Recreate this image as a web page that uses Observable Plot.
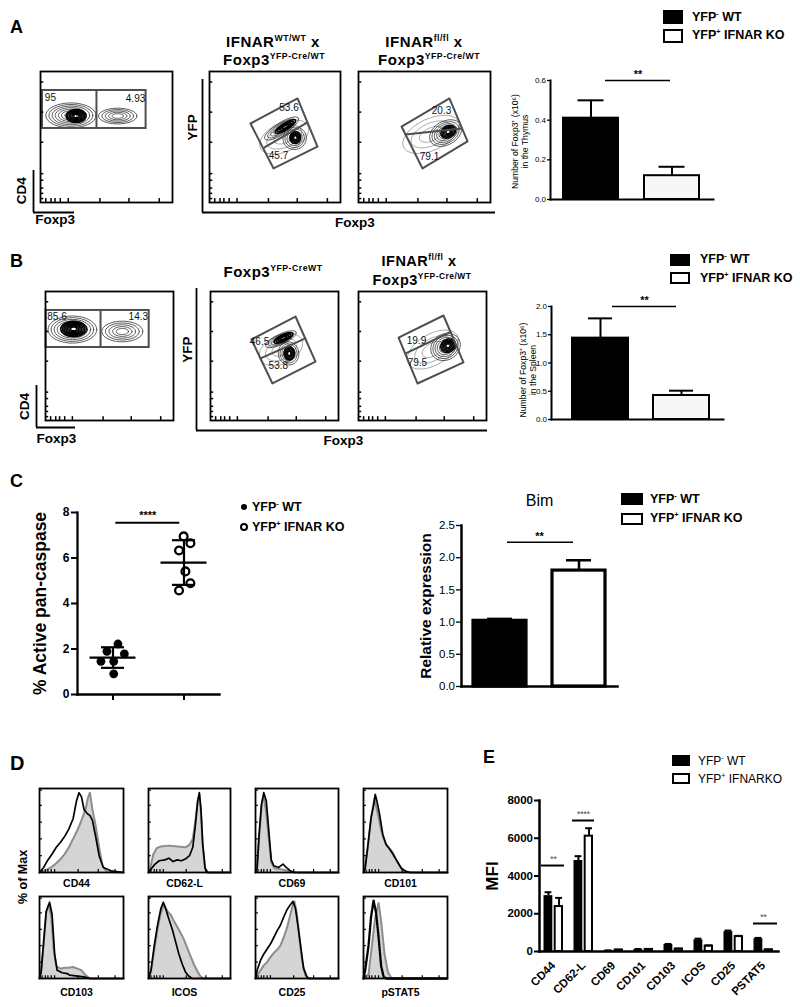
<!DOCTYPE html>
<html><head><meta charset="utf-8">
<script src="https://cdn.jsdelivr.net/npm/d3@7"></script>
<script src="https://cdn.jsdelivr.net/npm/@observablehq/plot@0.6"></script>
<style>
body{margin:0;background:#fff;}
#root{position:relative;width:800px;height:1007px;overflow:hidden;font-family:"Liberation Sans",Arial,Helvetica,sans-serif;color:#000;background:#fff;}
sup{font-size:0.58em;position:relative;top:-0.72em;vertical-align:baseline;line-height:0;}
</style></head>
<body><div id="root"></div>
<script>
// ---------------- DATA ----------------
const groups = ["YFP- WT", "YFP+ IFNAR KO"];
// A / B bar charts (x10^6 Foxp3+ cells)
const thymusMean = [0.41, 0.12];
const thymusTop  = [0.50, 0.165];
const spleenMean = [1.44, 0.425];
const spleenTop  = [1.79, 0.51];
// Bim relative expression
const bimMean = [1.02, 1.80];
const bimTop  = [1.05, 1.96];
// C % active pan-caspase (value, horizontal jitter in group units)
const caspWT = [2.22, 1.90, 1.79, 1.46, 1.46, 0.91];
const caspWTjit = [0.07, -0.085, 0.16, -0.17, 0.01, 0.01];
const caspKO = [6.95, 6.65, 6.33, 5.41, 4.89, 4.57];
const caspKOjit = [-0.005, 0.09, -0.07, 0.02, 0.09, -0.07];
// E MFI
const eMarkers = ["CD44", "CD62-L", "CD69", "CD101", "CD103", "ICOS", "CD25", "PSTAT5"];
const eWT    = [2960, 4820, 50, 110, 370, 620, 1050, 680];
const eWTtop = [3140, 5050, 60, 130, 400, 680, 1110, 720];
const eKO    = [2380, 6110, 80, 110, 130, 290, 790, 90];
const eKOtop = [2840, 6530, 90, 120, 150, 320, 830, 100];
// flow gate percentages
const gateA1 = ["95", "4.93"];
const gateA2 = ["53.6", "45.7"];
const gateA3 = ["20.3", "79.1"];
const gateB1 = ["85.6", "14.3"];
const gateB2 = ["46.5", "53.8"];
const gateB3 = ["19.9", "79.5"];
// D histograms [x, % of max / 100]
const cd44Gray  = [[0,0],[.05,.02],[.1,.04],[.15,.07],[.2,.11],[.25,.16],[.3,.22],[.35,.3],[.4,.4],[.45,.5],[.5,.62],[.55,.76],[.58,.9],[.6,.95],[.63,.75],[.67,.55],[.71,.3],[.75,.08],[.8,.01],[1,0]];
const cd44Black = [[0,0],[.05,.06],[.1,.15],[.15,.22],[.2,.3],[.25,.36],[.3,.43],[.35,.52],[.4,.64],[.44,.85],[.47,.95],[.5,.9],[.53,.75],[.57,.7],[.6,.68],[.63,.62],[.67,.42],[.71,.2],[.76,.06],[.85,.02],[1,0]];
const cd62Gray  = [[0,0],[.02,.05],[.06,.22],[.1,.29],[.15,.31],[.25,.32],[.35,.31],[.45,.3],[.5,.33],[.54,.4],[.57,.6],[.6,.85],[.62,.93],[.64,.72],[.66,.35],[.69,.05],[.72,0],[1,0]];
const cd62Black = [[0,0],[.03,.04],[.08,.1],[.13,.14],[.2,.15],[.25,.17],[.3,.13],[.35,.15],[.4,.14],[.45,.16],[.5,.2],[.54,.3],[.57,.55],[.6,.85],[.62,.95],[.64,.75],[.66,.35],[.69,.05],[.72,0],[1,0]];
const cd69Gray  = [[0,0],[.02,.1],[.05,.5],[.08,.85],[.1,.9],[.13,.7],[.16,.4],[.19,.12],[.23,.05],[.3,.04],[.35,.03],[.42,.01],[.5,0],[1,0]];
const cd69Black = [[0,0],[.02,.05],[.04,.4],[.07,.8],[.1,.95],[.13,.85],[.16,.5],[.19,.15],[.22,.08],[.28,.06],[.33,.1],[.37,.06],[.42,.02],[.46,0],[1,0]];
const cd101Gray  = [[0,0],[.02,.08],[.05,.3],[.09,.65],[.13,.88],[.17,.7],[.21,.5],[.26,.35],[.3,.3],[.34,.25],[.38,.17],[.43,.08],[.48,.02],[.55,0],[1,0]];
const cd101Black = [[0,0],[.02,.05],[.05,.3],[.09,.65],[.12,.8],[.14,.93],[.16,.85],[.19,.7],[.23,.45],[.27,.33],[.31,.28],[.35,.22],[.39,.15],[.45,.05],[.51,.01],[.56,0],[1,0]];
const cd103Gray  = [[0,0],[.02,.1],[.05,.45],[.08,.8],[.11,.9],[.14,.75],[.17,.35],[.2,.15],[.25,.12],[.3,.13],[.35,.13],[.4,.14],[.45,.12],[.5,.1],[.55,.04],[.6,0],[1,0]];
const cd103Black = [[0,0],[.02,.08],[.05,.45],[.08,.82],[.12,.93],[.15,.78],[.18,.3],[.21,.1],[.27,.07],[.33,.06],[.36,.04],[.45,.03],[.53,.02],[.6,0],[1,0]];
const icosGray  = [[0,0],[.03,.08],[.07,.35],[.11,.6],[.15,.8],[.19,.9],[.23,.82],[.27,.78],[.31,.7],[.35,.63],[.39,.56],[.43,.48],[.47,.38],[.51,.28],[.55,.18],[.59,.1],[.63,.03],[.67,0],[1,0]];
const icosBlack = [[0,0],[.03,.1],[.07,.4],[.11,.65],[.15,.85],[.18,.93],[.21,.85],[.25,.72],[.29,.6],[.33,.45],[.37,.3],[.41,.18],[.45,.08],[.49,.03],[.53,0],[1,0]];
const cd25Gray  = [[0,0],[.02,.04],[.06,.1],[.1,.16],[.14,.2],[.18,.26],[.22,.31],[.26,.35],[.3,.4],[.34,.5],[.38,.62],[.42,.78],[.45,.9],[.47,.94],[.5,.78],[.53,.5],[.56,.22],[.6,.04],[.63,0],[1,0]];
const cd25Black = [[0,0],[.02,.1],[.06,.22],[.1,.3],[.14,.36],[.18,.42],[.22,.5],[.26,.58],[.3,.65],[.34,.75],[.38,.84],[.42,.9],[.45,.94],[.48,.86],[.51,.65],[.55,.35],[.58,.12],[.62,.02],[.65,0],[1,0]];
const pstat5Gray  = [[0,0],[.06,.05],[.1,.4],[.14,.75],[.18,.92],[.21,.7],[.25,.3],[.29,.08],[.33,.01],[.36,0],[1,0]];
const pstat5Black = [[0,0],[.02,.1],[.06,.4],[.09,.75],[.12,.95],[.15,.8],[.18,.5],[.21,.15],[.24,.02],[.27,0],[1,0]];
const histLabels = ["CD44", "CD62-L", "CD69", "CD101", "CD103", "ICOS", "CD25", "pSTAT5"];
// tick positions on flow / histogram log axes (fraction of axis)
const flowTicksX = [.04, .08, .11, .15, .21, .45, .67, .90];
const flowTicksY = [.03, .07, .11, .17, .22, .46, .69, .92];
const histTicksX = [.03, .07, .1, .14, .18, .46, .7, .9];
const histTicksY = [.2, .4, .6, .8, .98];

// ---------------- HELPERS ----------------
const FONT = '"Liberation Sans", Arial, Helvetica, sans-serif';
const st = {fontFamily: FONT, background: "transparent", overflow: "visible"};
const root = document.getElementById("root");
const GATE = "#4f4f4f";

function put(node, left, top) {
  node.style.position = "absolute";
  node.style.left = left + "px";
  node.style.top = top + "px";
  root.appendChild(node);
  return node;
}
function txt(content, x, baseline, {size = 12, weight = "bold", anchor = "start", extra = ""} = {}) {
  const d = document.createElement("div");
  d.innerHTML = content;
  d.style.cssText = `position:absolute;white-space:nowrap;font-size:${size}px;font-weight:${weight};line-height:${size}px;${extra}`;
  d.style.left = x + "px";
  d.style.top = (baseline - 0.8465 * size) + "px";
  if (anchor === "middle") d.style.transform = "translateX(-50%)";
  if (anchor === "end") d.style.transform = "translateX(-100%)";
  root.appendChild(d);
}
function legendRow(x, cy, sw, sh, filled, label, {size = 12.5, weight = "bold", gap = 9, border = 2.5} = {}) {
  const s = document.createElement("div");
  s.style.cssText = `position:absolute;left:${x}px;top:${cy - sh / 2}px;width:${sw}px;height:${sh}px;box-sizing:border-box;background:${filled ? "#000" : "#fff"};border:${border}px solid #000;`;
  root.appendChild(s);
  txt(label, x + sw + gap, cy + 0.36 * size, {size, weight});
}
function dotRow(cx, cy, filled, label) {
  const s = document.createElement("div");
  const r = filled ? 3.4 : 4.3;
  s.style.cssText = `position:absolute;left:${cx - r}px;top:${cy - r}px;width:${2 * r}px;height:${2 * r}px;box-sizing:border-box;border-radius:50%;background:${filled ? "#000" : "#fff"};border:${filled ? 0 : 2.2}px solid #000;`;
  root.appendChild(s);
  txt(label, cx + 8, cy + 0.36 * 12.5, {size: 12.5});
}
function rings(p) {
  const out = [], a = (p.a || 0) * Math.PI / 180;
  for (let k = 0; k < p.n; k++) {
    const s = 1 - k / p.n * 0.88;
    for (let j = 0; j <= 44; j++) {
      const t = j / 44 * 2 * Math.PI;
      const ex = p.rx * s * Math.cos(t), ey = p.ry * s * Math.sin(t);
      out.push({x: p.cx + ex * Math.cos(a) - ey * Math.sin(a), y: p.cy + ex * Math.sin(a) + ey * Math.cos(a), k});
    }
  }
  return out;
}
function flow({fl, ft, fw, fh, quad, divider, rect, pops, labels}) {
  const m = 3;
  const marks = [];
  for (const p of pops) marks.push(Plot.line(rings(p), {x: "x", y: "y", z: "k", stroke: p.c || "#151515", strokeWidth: p.w || 0.7}));
  if (quad) {
    marks.push(Plot.line([...quad, quad[0]], {x: d => d[0], y: d => d[1], stroke: GATE, strokeWidth: 2}));
    marks.push(Plot.line(divider, {x: d => d[0], y: d => d[1], stroke: GATE, strokeWidth: 2}));
  }
  if (rect) {
    marks.push(Plot.rect([rect], {x1: "x1", x2: "x2", y1: "y1", y2: "y2", fill: "none", stroke: GATE, strokeWidth: 2}));
    marks.push(Plot.ruleX([rect], {x: "div", y1: "y1", y2: "y2", stroke: GATE, strokeWidth: 2}));
  }
  marks.push(Plot.text(labels, {x: "x", y: "y", text: "t", fontSize: 10, fill: "#111"}));
  marks.push(Plot.ruleX(flowTicksX, {y1: 0, y2: 0.03, strokeWidth: 1.5}));
  marks.push(Plot.ruleY(flowTicksY, {x1: 0, x2: 0.025, strokeWidth: 1.5}));
  marks.push(Plot.frame({stroke: "#000", strokeWidth: 1.8}));
  const p = Plot.plot({width: fw + 2 * m, height: fh + 2 * m, margin: m,
    x: {domain: [0, 1], axis: null}, y: {domain: [0, 1], axis: null}, style: st, marks});
  put(p, fl - m, ft - m);
}
function lAxis({l, t, w, h, xLabel, xAt, xDy, xAnchor, yLabel, yAt, yDx}) {
  const ml = 32, mr = 4, mt = 2, mb = 22;
  const p = Plot.plot({width: w + ml + mr, height: h + mt + mb, marginLeft: ml, marginRight: mr, marginTop: mt, marginBottom: mb,
    x: {domain: [0, 1], axis: null}, y: {domain: [0, 1], axis: null}, style: st,
    marks: [
      Plot.ruleX([0], {strokeWidth: 1.8}),
      Plot.ruleY([0], {strokeWidth: 1.8}),
      Plot.text([yLabel], {x: 0, y: yAt, text: d => d, rotate: -90, dx: yDx, textAnchor: "middle", fontSize: 13.5, fontWeight: "bold"}),
      Plot.text([xLabel], {x: xAt, y: 0, text: d => d, dy: xDy, textAnchor: xAnchor, fontSize: 13.5, fontWeight: "bold"})
    ]});
  put(p, l - ml, t - mt);
}
function barChart(o) {
  const {fl, ft, fw, fh, ml = 45, mr = 6, mt = 14, mb = 4, mean, top, yDomain, ticks, fmt, tickFont, tickWeight = "normal",
    tickSize = 3, pi, po, align = 0.5, axisW = 2, barW = 2, capInset, sig, ylabel, ylDx, ylDy = 0, ylFont, ylWeight = "normal",
    ylLine = 1.15, title, koW, koFill = "#f7f7f7"} = o;
  const data = groups.map((c, i) => ({c, m: mean[i], e: top[i]}));
  const marks = [
    Plot.barY(data, {x: "c", y: "m", fill: "c", stroke: "#000", strokeWidth: koW || barW}),
    Plot.ruleX(data, {x: "c", y1: "m", y2: "e", strokeWidth: barW}),
    Plot.tickY(data, {x: "c", y: "e", insetLeft: capInset, insetRight: capInset, strokeWidth: barW}),
    Plot.frame({anchor: "left", stroke: "#000", strokeWidth: axisW}),
    Plot.frame({anchor: "bottom", stroke: "#000", strokeWidth: axisW}),
    Plot.axisY({ticks, tickFormat: fmt, tickSize, tickPadding: 1.5, fontSize: tickFont, fontWeight: tickWeight, label: null, strokeWidth: 1.3}),
    Plot.ruleY([sig], {y: "y", x1: () => groups[0], x2: () => groups[1], insetLeft: sig.l, insetRight: sig.r, strokeWidth: 1.6}),
    Plot.text([sig], {y: "y", text: () => "**", frameAnchor: "middle", dx: sig.tdx, dy: -6, fontSize: 11, fontWeight: "bold"}),
    Plot.text([ylabel], {text: d => d, frameAnchor: "left", textAnchor: "middle", rotate: -90, dx: ylDx, dy: ylDy, fontSize: ylFont, fontWeight: ylWeight, lineHeight: ylLine})
  ];
  if (title) marks.push(Plot.text([title], {text: d => d, frameAnchor: "top", dy: -31, fontSize: 16}));
  const p = Plot.plot({width: fw + ml + mr, height: fh + mt + mb, marginLeft: ml, marginRight: mr, marginTop: mt, marginBottom: mb,
    x: {type: "band", domain: groups, paddingInner: pi, paddingOuter: po, align, axis: null},
    y: {domain: yDomain, axis: null},
    color: {domain: groups, range: ["#000", koFill]},
    style: st, marks});
  put(p, fl - ml, ft - mt);
}
function hist(fl, ft, fw, fh, gray, black, label, labelDy, dashed) {
  const ml = 2, mr = 2, mt = 2, mb = 24;
  const blackOpts = {x: d => d[0], y: d => d[1], stroke: "#000", strokeWidth: dashed ? 2.4 : 1.7};
  if (dashed) blackOpts.strokeDasharray = "1.6,1.3";
  const p = Plot.plot({width: fw + ml + mr, height: fh + mt + mb, marginLeft: ml, marginRight: mr, marginTop: mt, marginBottom: mb,
    x: {domain: [0, 1], axis: null}, y: {domain: [0, 1], axis: null}, style: st,
    marks: [
      Plot.areaY(gray, {x: d => d[0], y: d => d[1], fill: "#d5d5d5"}),
      Plot.line(gray, {x: d => d[0], y: d => d[1], stroke: "#8d8d8d", strokeWidth: 2}),
      Plot.line(black, blackOpts),
      Plot.ruleX(histTicksX, {y1: 0, y2: 0.035, strokeWidth: 1.2}),
      Plot.ruleY(histTicksY, {x1: 0, x2: 0.035, strokeWidth: 1.2}),
      Plot.frame({stroke: "#000", strokeWidth: 1.8}),
      Plot.text([label], {text: d => d, frameAnchor: "bottom", textAnchor: "middle", dy: labelDy, dx: -5, fontSize: 10.5, fontWeight: "bold"})
    ]});
  put(p, fl - ml, ft - mt);
}

// ---------------- PANEL LETTERS ----------------
txt("A", 10, 33, {size: 18});
txt("B", 10, 267, {size: 18});
txt("C", 10, 487, {size: 18});
txt("D", 10, 770, {size: 20});
txt("E", 483, 763, {size: 18});

// ---------------- PANEL A ----------------
txt("IFNAR<sup>WT/WT</sup> x", 273, 47, {size: 15, anchor: "middle", extra: "letter-spacing:0.5px"});
txt("Foxp3<sup>YFP-Cre/WT</sup>", 274, 65, {size: 15, anchor: "middle", extra: "letter-spacing:0.5px"});
txt("IFNAR<sup>fl/fl</sup> x", 424, 47, {size: 15, anchor: "middle", extra: "letter-spacing:0.5px"});
txt("Foxp3<sup>YFP-Cre/WT</sup>", 429, 65, {size: 15, anchor: "middle", extra: "letter-spacing:0.5px"});

lAxis({l: 33, t: 170, w: 41, h: 42, xLabel: "Foxp3", xAt: 0.04, xDy: 7, xAnchor: "start", yLabel: "CD4", yAt: 0.52, yDx: -12});
lAxis({l: 202, t: 79, w: 293, h: 133, xLabel: "Foxp3", xAt: 0.52, xDy: 10, xAnchor: "middle", yLabel: "YFP", yAt: 0.64, yDx: -10});

flow({fl: 40, ft: 71, fw: 132, fh: 131,
  rect: {x1: .015, x2: .80, y1: .565, y2: .855, div: .424},
  pops: [
    {cx: .23, cy: .665, rx: .19, ry: .095, n: 7},
    {cx: .27, cy: .66, rx: .075, ry: .05, n: 6, w: 1.5, c: "#000"},
    {cx: .585, cy: .66, rx: .145, ry: .06, n: 5}
  ],
  labels: [{t: gateA1[0], x: .075, y: .80}, {t: gateA1[1], x: .72, y: .79}]});
flow({fl: 209, ft: 71, fw: 131, fh: 131,
  quad: [[.672, .794], [.824, .427], [.489, .260], [.313, .603]], divider: [[.42, .42], [.748, .611]],
  pops: [
    {cx: .57, cy: .5, rx: .2, ry: .11, a: 25, n: 3, w: .5, c: "#555"},
    {cx: .55, cy: .565, rx: .15, ry: .045, a: 32, n: 5},
    {cx: .58, cy: .58, rx: .09, ry: .025, a: 32, n: 4, w: 1.6, c: "#000"},
    {cx: .65, cy: .49, rx: .09, ry: .085, a: 20, n: 5},
    {cx: .655, cy: .495, rx: .04, ry: .045, n: 4, w: 1.6, c: "#000"}
  ],
  labels: [{t: gateA2[0], x: .607, y: .721}, {t: gateA2[1], x: .527, y: .355}]});
flow({fl: 358, ft: 71, fw: 132, fh: 131,
  quad: [[.689, .794], [.826, .466], [.485, .260], [.326, .580]], divider: [[.356, .519], [.780, .565]],
  pops: [
    {cx: .55, cy: .52, rx: .23, ry: .12, a: 25, n: 3, w: .5, c: "#555"},
    {cx: .66, cy: .53, rx: .13, ry: .09, a: 30, n: 6},
    {cx: .68, cy: .54, rx: .06, ry: .045, a: 30, n: 5, w: 1.4, c: "#000"}
  ],
  labels: [{t: gateA3[0], x: .629, y: .698}, {t: gateA3[1], x: .538, y: .351}]});

barChart({fl: 550, ft: 80, fw: 163, fh: 119, mean: thymusMean, top: thymusTop, yDomain: [0, 0.6],
  ticks: [0, 0.2, 0.4, 0.6], fmt: d3.format(".1f"), tickFont: 8, pi: 0.32, po: 0.166, capInset: 14.5,
  sig: {y: 0.6, l: 42, r: 29, tdx: 6},
  ylabel: "Number of Foxp3⁺ (x10⁶)\nin the Thymus", ylDx: -31, ylDy: 1.5, ylFont: 8.6});
legendRow(663, 17, 20, 14, true, "YFP<sup>-</sup> WT");
legendRow(663, 35.5, 20, 14, false, "YFP<sup>+</sup> IFNAR KO");

// ---------------- PANEL B ----------------
txt("Foxp3<sup>YFP-CreWT</sup>", 273, 277, {size: 15, anchor: "middle", extra: "letter-spacing:0.5px"});
txt("IFNAR<sup>fl/fl</sup> x", 419, 266, {size: 14.5, anchor: "middle", extra: "letter-spacing:0.5px"});
txt("Foxp3<sup>YFP-Cre/WT</sup>", 422, 285, {size: 14.5, anchor: "middle", extra: "letter-spacing:0.5px"});

lAxis({l: 36, t: 385, w: 39, h: 42, xLabel: "Foxp3", xAt: 0, xDy: 11, xAnchor: "start", yLabel: "CD4", yAt: 0.5, yDx: -12});
lAxis({l: 196, t: 288, w: 291, h: 142, xLabel: "Foxp3", xAt: 0.505, xDy: 10, xAnchor: "middle", yLabel: "YFP", yAt: 0.57, yDx: -9});

flow({fl: 45, ft: 291, fw: 128, fh: 129,
  rect: {x1: .005, x2: .81, y1: .566, y2: .853, div: .43},
  pops: [
    {cx: .21, cy: .705, rx: .19, ry: .105, n: 7},
    {cx: .22, cy: .71, rx: .1, ry: .06, n: 7, w: 1.5, c: "#000"},
    {cx: .6, cy: .69, rx: .16, ry: .08, n: 5}
  ],
  labels: [{t: gateB1[0], x: .09, y: .805}, {t: gateB1[1], x: .725, y: .805}]});
flow({fl: 210, ft: 291, fw: 128, fh: 129,
  quad: [[.664, .806], [.820, .457], [.484, .287], [.320, .628]], divider: [[.391, .481], [.742, .636]],
  pops: [
    {cx: .55, cy: .55, rx: .18, ry: .11, a: 25, n: 3, w: .5, c: "#555"},
    {cx: .55, cy: .63, rx: .13, ry: .04, a: 25, n: 5},
    {cx: .57, cy: .64, rx: .08, ry: .025, a: 25, n: 4, w: 1.6, c: "#000"},
    {cx: .61, cy: .52, rx: .08, ry: .09, a: 10, n: 5},
    {cx: .615, cy: .52, rx: .04, ry: .05, n: 4, w: 1.6, c: "#000"}
  ],
  labels: [{t: gateB2[0], x: .383, y: .612}, {t: gateB2[1], x: .53, y: .426}]});
flow({fl: 358, ft: 291, fw: 128, fh: 129,
  quad: [[.664, .814], [.820, .450], [.461, .287], [.313, .643]], divider: [[.365, .519], [.719, .686]],
  pops: [
    {cx: .58, cy: .55, rx: .22, ry: .12, a: 30, n: 3, w: .5, c: "#555"},
    {cx: .68, cy: .57, rx: .12, ry: .1, a: 30, n: 6},
    {cx: .7, cy: .58, rx: .06, ry: .05, a: 30, n: 5, w: 1.4, c: "#000"}
  ],
  labels: [{t: gateB3[0], x: .453, y: .62}, {t: gateB3[1], x: .46, y: .45}]});

barChart({fl: 551, ft: 306, fw: 172, fh: 113, mean: spleenMean, top: spleenTop, yDomain: [0, 2],
  ticks: [0, 0.5, 1, 1.5, 2], fmt: d3.format(".1f"), tickFont: 8, pi: 0.305, po: 0.2013, align: 0.6, capInset: 16,
  sig: {y: 2, l: 40, r: 33, tdx: 7},
  ylabel: "Number of Foxp3⁺ (x10⁶)\nin the Spleen", ylDx: -24, ylDy: 7, ylFont: 8.6});
legendRow(670, 259.5, 20, 12, true, "YFP<sup>-</sup> WT", {gap: 10});
legendRow(670, 278, 20, 12, false, "YFP<sup>+</sup> IFNAR KO", {gap: 10});

// ---------------- PANEL C ----------------
{
  const wt = caspWT.map((v, i) => ({x: 1 + caspWTjit[i], y: v}));
  const ko = caspKO.map((v, i) => ({x: 2 + caspKOjit[i], y: v}));
  const stats = [caspWT, caspKO].map((vals, i) => {
    const m = d3.mean(vals), s = d3.deviation(vals);
    return {g: i + 1, mean: m, lo: m - s, hi: m + s};
  });
  const ml = 50, mr = 5, mt = 16, mb = 10, fw = 142, fh = 182;
  const p = Plot.plot({width: fw + ml + mr, height: fh + mt + mb, marginLeft: ml, marginRight: mr, marginTop: mt, marginBottom: mb,
    x: {domain: [0.5, 2.5], axis: null}, y: {domain: [0, 8], axis: null}, style: st,
    marks: [
      Plot.ruleY(stats, {y: "mean", x1: d => d.g - 0.324, x2: d => d.g + 0.324, strokeWidth: 2.2}),
      Plot.ruleY(stats, {y: "lo", x1: d => d.g - 0.162, x2: d => d.g + 0.162, strokeWidth: 2.2}),
      Plot.ruleY(stats, {y: "hi", x1: d => d.g - 0.162, x2: d => d.g + 0.162, strokeWidth: 2.2}),
      Plot.ruleX(stats, {x: "g", y1: "lo", y2: "hi", strokeWidth: 2.2}),
      Plot.dot(wt, {x: "x", y: "y", r: 4.4, fill: "#000"}),
      Plot.dot(ko, {x: "x", y: "y", r: 3.9, stroke: "#000", strokeWidth: 2.3, fill: "none"}),
      Plot.frame({anchor: "left", stroke: "#000", strokeWidth: 2.3}),
      Plot.frame({anchor: "bottom", stroke: "#000", strokeWidth: 2.3}),
      Plot.axisY({ticks: [0, 2, 4, 6, 8], tickSize: 6, tickPadding: 2, fontSize: 12, fontWeight: "bold", label: null, strokeWidth: 2}),
      Plot.axisX({ticks: [1, 2], tickSize: 6, tickFormat: () => "", label: null, strokeWidth: 2}),
      Plot.ruleY([7.55], {x1: 1.04, x2: 1.94, strokeWidth: 2}),
      Plot.text(["****"], {x: 1.49, y: 7.55, text: d => d, dy: -7, fontSize: 11, fontWeight: "bold"}),
      Plot.text(["% Active pan-caspase"], {text: d => d, frameAnchor: "left", textAnchor: "middle", rotate: -90, dx: -37, fontSize: 17.5, fontWeight: "bold"})
    ]});
  put(p, 77 - ml, 512 - mt);
}
dotRow(244, 507, true, "YFP<sup>-</sup> WT");
dotRow(244, 527, false, "YFP<sup>+</sup> IFNAR KO");

barChart({fl: 461, ft: 525, fw: 156, fh: 161, ml: 50, mt: 40, mean: bimMean, top: bimTop, yDomain: [0, 2.5],
  ticks: [0, 0.5, 1, 1.5, 2, 2.5], fmt: d3.format(".1f"), tickFont: 11.5, tickSize: 5, pi: 0.325, po: 0.1375,
  axisW: 2.5, barW: 2.5, koW: 3.2, capInset: 14, koFill: "#fff",
  sig: {y: 2.24, l: 34, r: 32, tdx: 0},
  ylabel: "Relative expression", ylDx: -36, ylFont: 15.5, ylWeight: "bold", title: "Bim"});
legendRow(621, 499, 22, 12, true, "YFP<sup>-</sup> WT", {gap: 7});
legendRow(621, 518.5, 22, 12, false, "YFP<sup>+</sup> IFNAR KO", {gap: 7});

// ---------------- PANEL D ----------------
{
  const cols = [[39, 84], [148, 82], [255, 83], [363, 84]];
  const rowsY = [[788, 84, 14.5], [896, 82, 17.5]];
  const grays = [cd44Gray, cd62Gray, cd69Gray, cd101Gray, cd103Gray, icosGray, cd25Gray, pstat5Gray];
  const blacks = [cd44Black, cd62Black, cd69Black, cd101Black, cd103Black, icosBlack, cd25Black, pstat5Black];
  histLabels.forEach((lab, i) => {
    const [cl, cw] = cols[i % 4];
    const [rt, rh, ldy] = rowsY[Math.floor(i / 4)];
    hist(cl, rt, cw, rh, grays[i], blacks[i], lab, ldy, lab === "pSTAT5");
  });
  const d = document.createElement("div");
  d.textContent = "% of Max";
  d.style.cssText = "position:absolute;left:22.5px;top:877px;font-size:12.5px;font-weight:bold;line-height:1;white-space:nowrap;transform:translate(-50%,-50%) rotate(-90deg);";
  root.appendChild(d);
}

// ---------------- PANEL E ----------------
{
  const ml = 58, mr = 8, mt = 10, mb = 55, fw = 239, fh = 151;
  const n = eMarkers.length, pi = 0.33, po = 0.135;
  const step = fw / (n - pi + 2 * po), bw = step * (1 - pi);
  const data = eMarkers.map((m, i) => ({m, wt: eWT[i], wte: eWTtop[i], ko: eKO[i], koe: eKOtop[i]}));
  const sigs = [{m: "CD44", y: 4555, t: "**", l: -2, r: -1}, {m: "CD62-L", y: 6940, t: "****", l: -1, r: -1}, {m: "PSTAT5", y: 1483, t: "**", l: 0, r: -4}];
  const p = Plot.plot({width: fw + ml + mr, height: fh + mt + mb, marginLeft: ml, marginRight: mr, marginTop: mt, marginBottom: mb,
    x: {type: "band", domain: eMarkers, paddingInner: pi, paddingOuter: po, axis: null},
    y: {domain: [0, 8000], axis: null}, style: st,
    marks: [
      Plot.barY(data, {x: "m", y: "wt", fill: "#000", insetLeft: 0.5, insetRight: bw / 2 + 0.6}),
      Plot.barY(data, {x: "m", y: "ko", fill: "#fff", stroke: "#000", strokeWidth: 2, insetLeft: bw / 2 + 1.6, insetRight: 1}),
      Plot.ruleX(data, {x: "m", y1: "wt", y2: "wte", dx: -bw / 4, strokeWidth: 2}),
      Plot.tickY(data, {x: "m", y: "wte", insetLeft: bw / 4 - 3.5, insetRight: 3 * bw / 4 - 3.5, strokeWidth: 2}),
      Plot.ruleX(data, {x: "m", y1: "ko", y2: "koe", dx: bw / 4 + 0.5, strokeWidth: 2}),
      Plot.tickY(data, {x: "m", y: "koe", insetLeft: 3 * bw / 4 - 3, insetRight: bw / 4 - 4, strokeWidth: 2}),
      Plot.frame({anchor: "left", stroke: "#000", strokeWidth: 2.5}),
      Plot.frame({anchor: "bottom", stroke: "#000", strokeWidth: 2.5}),
      Plot.axisY({ticks: [0, 2000, 4000, 6000, 8000], tickFormat: d => String(d), tickSize: 5, tickPadding: 1.5, fontSize: 11.5, fontWeight: "bold", label: null, strokeWidth: 2}),
      Plot.axisX({tickRotate: -45, tickSize: 0, tickPadding: 12, fontSize: 11.5, fontWeight: "bold", label: null}),
      ...sigs.map(s => Plot.ruleY([s], {y: "y", x1: "m", x2: "m", insetLeft: s.l, insetRight: s.r, strokeWidth: 2})),
      Plot.text(sigs, {x: "m", y: "y", text: "t", dy: -6, fontSize: 8.5, fill: "#444"}),
      Plot.text(["MFI"], {text: d => d, frameAnchor: "left", textAnchor: "middle", rotate: -90, dx: -47, fontSize: 17, fontWeight: "bold"})
    ]});
  put(p, 539 - ml, 800 - mt);
}
legendRow(672, 760.5, 18, 11, true, "YFP<sup>-</sup> WT", {size: 12, weight: "normal", gap: 8});
legendRow(672, 778.5, 18, 11, false, "YFP<sup>+</sup> IFNARKO", {size: 12, weight: "normal", gap: 8});
</script>
</body></html>
